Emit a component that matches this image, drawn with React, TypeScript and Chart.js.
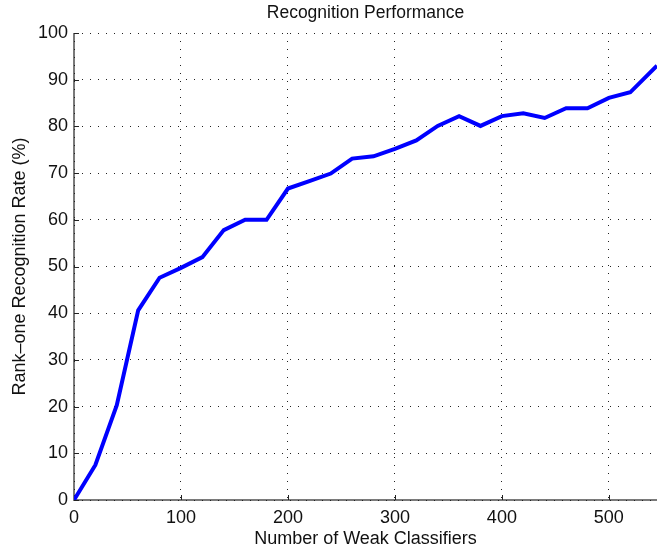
import React, { useEffect, useRef } from "react";
import { Chart, registerables } from "chart.js";

Chart.register(...registerables);

// Number of weak classifiers used by the boosted recogniser
const weakClassifiers = [
  0, 20, 40, 60, 80, 100, 120, 140, 160, 180, 200, 220, 240, 260, 280, 300,
  320, 340, 360, 380, 400, 420, 440, 460, 480, 500, 520, 545,
];

// Rank-one recognition rate (%) at each classifier count
const recognitionRate = [
  0, 7.5, 20.3, 40.6, 47.6, 49.7, 52, 57.8, 60, 60, 66.7, 68.3, 69.9, 73.1,
  73.6, 75.2, 77, 80.1, 82.2, 80.1, 82.2, 82.8, 81.8, 83.9, 83.9, 86.1, 87.3,
  93,
];

const xMajorTicks = [0, 100, 200, 300, 400, 500];
const yMajorTicks = [0, 10, 20, 30, 40, 50, 60, 70, 80, 90, 100];

const chartTitle = "Recognition Performance";
const xTitle = "Number of Weak Classifiers";
const yTitle = "Rank\u2013one Recognition Rate (%)";

const FONT = '"Liberation Sans", Arial, Helvetica, sans-serif';

// Grey axis lines drawn underneath the dotted grid, plus inward major ticks
// and a title centred over the plotting area.
const axesPlugin = {
  id: "matlabAxes",
  beforeDraw(chart: any) {
    const { ctx, chartArea } = chart;
    const { left, right, top, bottom } = chartArea;
    ctx.save();
    ctx.strokeStyle = "#7a7a7a";
    ctx.lineWidth = 2;
    ctx.beginPath();
    ctx.moveTo(left, top);
    ctx.lineTo(left, bottom);
    ctx.lineTo(right, bottom);
    ctx.stroke();
    ctx.restore();
  },
  beforeDatasetsDraw(chart: any) {
    const { ctx, chartArea, scales } = chart;
    const { left, bottom } = chartArea;
    ctx.save();
    ctx.strokeStyle = "#222";
    ctx.lineWidth = 1;
    ctx.beginPath();
    for (const v of xMajorTicks) {
      const px = Math.round(scales.x.getPixelForValue(v)) + 0.5;
      ctx.moveTo(px, bottom);
      ctx.lineTo(px, bottom - 5);
    }
    for (const v of yMajorTicks) {
      const py = Math.round(scales.y.getPixelForValue(v)) + 0.5;
      ctx.moveTo(left, py);
      ctx.lineTo(left + 5, py);
    }
    ctx.stroke();
    ctx.restore();
  },
  afterDraw(chart: any) {
    const { ctx, chartArea } = chart;
    ctx.save();
    ctx.fillStyle = "#111";
    ctx.font = `17.5px ${FONT}`;
    ctx.textAlign = "center";
    ctx.textBaseline = "middle";
    ctx.fillText(chartTitle, (chartArea.left + chartArea.right) / 2, 13);
    ctx.restore();
  },
};

export default function App() {
  const canvasRef = useRef<HTMLCanvasElement | null>(null);

  useEffect(() => {
    const canvas = canvasRef.current;
    if (!canvas) return;

    const points = weakClassifiers.map((x, i) => ({ x, y: recognitionRate[i] }));

    const gridOpts = {
      display: true,
      color: "#222",
      lineWidth: 1,
      drawTicks: false,
    };

    const chart = new Chart(canvas, {
      type: "line",
      data: {
        datasets: [
          {
            data: points,
            borderColor: "#0000ff",
            backgroundColor: "#0000ff",
            borderWidth: 4,
            pointRadius: 0,
            tension: 0,
            fill: false,
          },
        ],
      },
      options: {
        responsive: false,
        animation: false,
        events: [],
        layout: { padding: { top: 33, right: 1, bottom: 0, left: 0 } },
        plugins: {
          legend: { display: false },
          title: { display: false },
          tooltip: { enabled: false },
        },
        scales: {
          x: {
            type: "linear",
            min: 0,
            max: 545,
            afterBuildTicks: (scale: any) => {
              scale.ticks = xMajorTicks.map((v) => ({ value: v }));
            },
            afterFit: (scale: any) => {
              scale.height = 50;
            },
            grid: gridOpts,
            border: { display: false, dash: [1, 7] },
            ticks: {
              color: "#111",
              font: { family: FONT, size: 18 },
              padding: 7,
              maxRotation: 0,
            },
            title: {
              display: true,
              text: xTitle,
              color: "#111",
              font: { family: FONT, size: 18 },
              padding: { top: 0, bottom: 0 },
            },
          },
          y: {
            type: "linear",
            min: 0,
            max: 100,
            afterBuildTicks: (scale: any) => {
              scale.ticks = yMajorTicks.map((v) => ({ value: v }));
            },
            afterFit: (scale: any) => {
              scale.width = 74;
            },
            grid: gridOpts,
            border: { display: false, dash: [1, 7] },
            ticks: {
              color: "#111",
              font: { family: FONT, size: 18 },
              padding: 6,
            },
            title: {
              display: true,
              text: yTitle,
              color: "#111",
              font: { family: FONT, size: 18 },
              padding: { top: 9, bottom: 0 },
            },
          },
        },
      },
      plugins: [axesPlugin],
    });

    return () => chart.destroy();
  }, []);

  return (
    <div style={{ position: "absolute", left: 0, top: 0, width: 658, height: 550, background: "#fff" }}>
      <canvas ref={canvasRef} width={658} height={550} />
    </div>
  );
}
